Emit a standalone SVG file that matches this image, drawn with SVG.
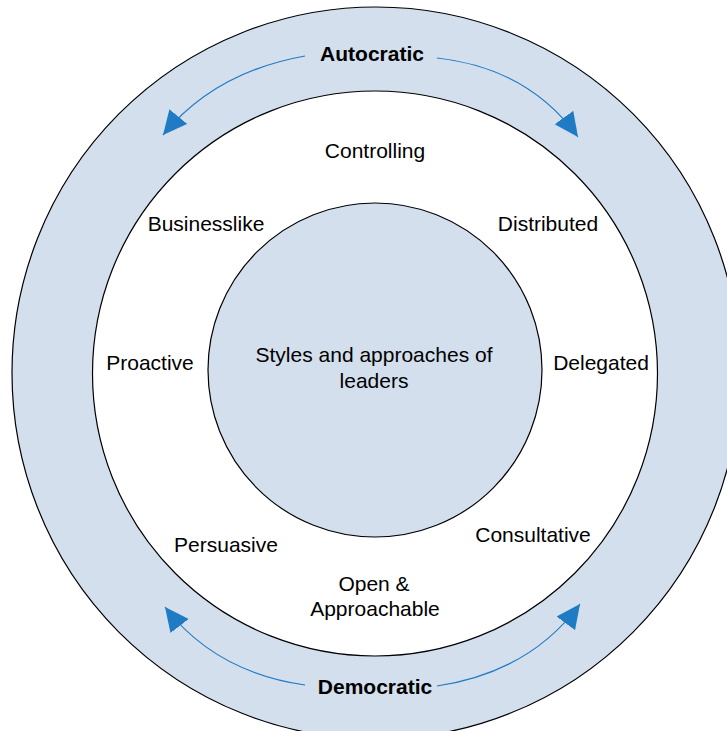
<svg xmlns="http://www.w3.org/2000/svg" width="727" height="731" viewBox="0 0 727 731">
<style>
.ring{fill:#d4dfed;stroke:#000;stroke-width:1.2}
.mid{fill:#fff;stroke:#000;stroke-width:1.2}
.lbl{font-family:"Liberation Sans",Arial,sans-serif;font-size:21px;fill:#000;text-anchor:middle}
.bold{font-weight:bold}
.arr{fill:none;stroke:#1f7bc4;stroke-width:1.2}
</style>
<defs>
<marker id="ah" markerUnits="userSpaceOnUse" markerWidth="26" markerHeight="24" refX="24" refY="11.5" orient="auto">
<path d="M0,0 L24,11.5 L0,23 z" fill="#1f7bc4"/>
</marker>
</defs>
<rect width="727" height="731" fill="#fff"/>
<g id="outer-ring"><ellipse class="ring" cx="376" cy="373" rx="364" ry="366"/></g>
<g id="middle-ring"><circle class="mid" cx="375" cy="373.5" r="282.5"/></g>
<g id="center"><circle class="ring" cx="375" cy="370" r="167"/>
<text class="lbl" x="374" y="362">Styles and approaches of</text>
<text class="lbl" x="374" y="388">leaders</text></g>
<g id="connectors">
<path class="arr" d="M305,56 Q215,72 163,135" marker-end="url(#ah)"/>
<path class="arr" d="M437,58 Q528,68 578,137" marker-end="url(#ah)"/>
<path class="arr" d="M305,685 Q215,672 165,607" marker-end="url(#ah)"/>
<path class="arr" d="M437,686 Q530,672 580,604" marker-end="url(#ah)"/>
</g>
<g id="autocratic"><text class="lbl bold" x="372" y="61">Autocratic</text></g>
<g id="democratic"><text class="lbl bold" x="375" y="694">Democratic</text></g>
<g id="controlling"><text class="lbl" x="375" y="158">Controlling</text></g>
<g id="businesslike"><text class="lbl" x="206" y="231">Businesslike</text></g>
<g id="distributed"><text class="lbl" x="548" y="231">Distributed</text></g>
<g id="proactive"><text class="lbl" x="150" y="370">Proactive</text></g>
<g id="delegated"><text class="lbl" x="601" y="370">Delegated</text></g>
<g id="persuasive"><text class="lbl" x="226" y="552">Persuasive</text></g>
<g id="consultative"><text class="lbl" x="533" y="542">Consultative</text></g>
<g id="open"><text class="lbl" x="374" y="591">Open &amp;</text>
<text class="lbl" x="375" y="616">Approachable</text></g>
</svg>
